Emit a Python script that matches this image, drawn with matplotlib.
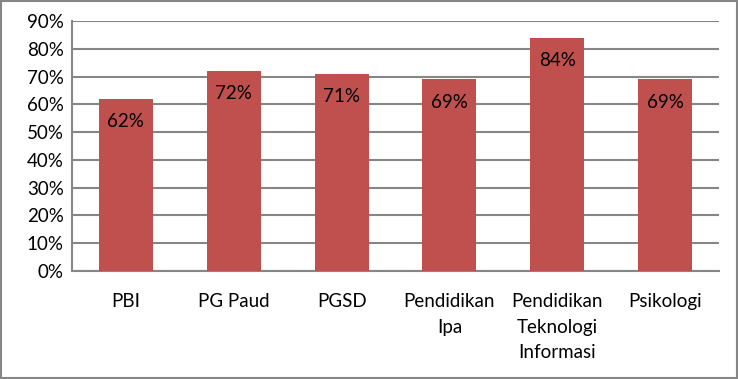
import matplotlib
matplotlib.use("Agg")
import matplotlib.pyplot as plt
from matplotlib.patches import Rectangle

categories = ["PBI", "PG Paud", "PGSD", "Pendidikan\nIpa", "Pendidikan\nTeknologi\nInformasi", "Psikologi"]
values = [62, 72, 71, 69, 84, 69]
yticks = [0, 10, 20, 30, 40, 50, 60, 70, 80, 90]

plt.rcParams["font.family"] = ["Lato", "DejaVu Sans"]

W, H = 738, 379
fig = plt.figure(figsize=(W / 100, H / 100), dpi=100)
ax = fig.add_axes([72 / W, 1 - 271 / H, (719 - 72) / W, (271 - 21) / H])

grid_c = "#868686"
fs = 13.5
x = range(len(categories))
bars = ax.bar(x, values, width=0.5, color="#C0504D", zorder=3)
for b, v in zip(bars, values):
    ax.text(b.get_x() + b.get_width() / 2, v - 5.2, f"{v}%", ha="center", va="top",
            fontsize=fs, color="black", zorder=4)

ax.set_xlim(-0.5, len(categories) - 0.5)
ax.set_ylim(0, 90)
ax.set_yticks(yticks)
ax.set_yticklabels([f"{t}%" for t in yticks], fontsize=fs)
ax.set_xticks(list(x))
ax.set_xticklabels(categories, fontsize=fs, linespacing=1.6, va="top")
ax.tick_params(axis="x", length=0, pad=16)
ax.tick_params(axis="y", length=0, pad=6)
ax.yaxis.grid(True, color=grid_c, lw=1.5, zorder=0)
for s in ["top", "right"]:
    ax.spines[s].set_visible(False)
for s in ["left", "bottom"]:
    ax.spines[s].set_color(grid_c)
    ax.spines[s].set_linewidth(1.5)

fig.patches.append(Rectangle((0.001, 0.002), 0.997, 0.995, transform=fig.transFigure,
                             fill=False, edgecolor=grid_c, lw=1.5))

fig.savefig("out.png", dpi=100)
